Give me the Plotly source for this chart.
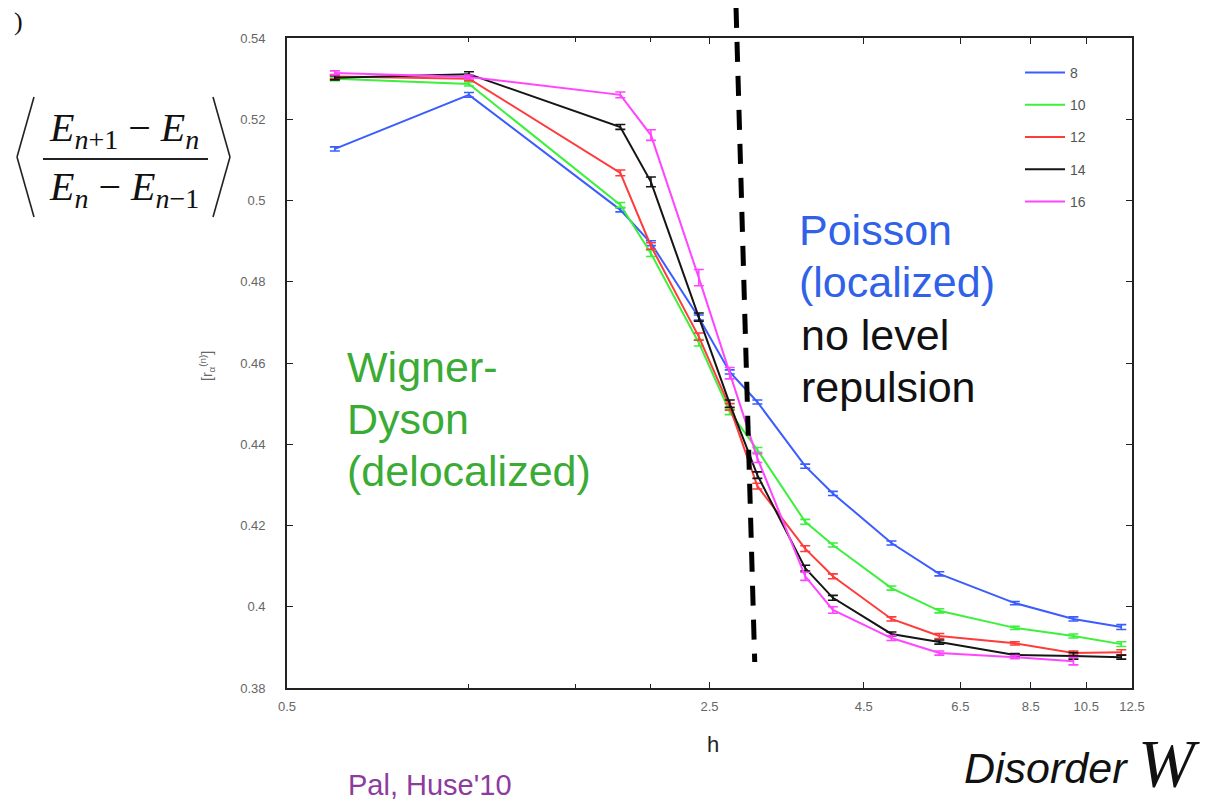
import math
import plotly.graph_objects as go

# ---------------- data ----------------
W = [0.6, 1.0, 1.78, 2.0, 2.4, 2.7, 3.0, 3.6, 4.0, 5.0, 6.0, 8.0, 10.0, 12.0]
sizes = ["8", "10", "12", "14", "16"]

r_L8 = [0.5127, 0.5260, 0.4977, 0.4895, 0.4712, 0.4578, 0.4504, 0.4346, 0.4279, 0.4157, 0.4081, 0.4009, 0.3970, 0.3950]
r_L10 = [0.5300, 0.5287, 0.4989, 0.4870, 0.4650, 0.4480, 0.4386, 0.4209, 0.4152, 0.4046, 0.3990, 0.3948, 0.3928, 0.3908]
r_L12 = [0.5305, 0.5300, 0.5068, 0.4888, 0.4665, 0.4492, 0.4297, 0.4143, 0.4075, 0.3970, 0.3928, 0.3910, 0.3886, 0.3888]
r_L14 = [0.5302, 0.5311, 0.5181, 0.5046, 0.4713, 0.4500, 0.4324, 0.4095, 0.4022, 0.3933, 0.3913, 0.3881, 0.3879, 0.3876]
r_L16 = [0.5314, 0.5304, 0.5260, 0.5161, 0.4810, 0.4575, 0.4366, 0.4075, 0.3992, 0.3923, 0.3886, 0.3876, 0.3866]

e_L8 = [0.0005, 0.0006, 0.0005, 0.0006, 0.0006, 0.0005, 0.0005, 0.0005, 0.0005, 0.0005, 0.0005, 0.0004, 0.0005, 0.0006]
e_L10 = [0.0005, 0.0005, 0.0006, 0.0008, 0.0008, 0.0007, 0.0006, 0.0006, 0.0005, 0.0005, 0.0005, 0.0004, 0.0005, 0.0006]
e_L12 = [0.0005, 0.0005, 0.0007, 0.0008, 0.0009, 0.0008, 0.0007, 0.0007, 0.0006, 0.0005, 0.0006, 0.0004, 0.0005, 0.0006]
e_L14 = [0.0005, 0.0006, 0.0006, 0.0012, 0.0010, 0.0009, 0.0008, 0.0007, 0.0006, 0.0005, 0.0005, 0.0004, 0.0008, 0.0005]
e_L16 = [0.0005, 0.0005, 0.0007, 0.0013, 0.0020, 0.0014, 0.0011, 0.0010, 0.0008, 0.0006, 0.0005, 0.0004, 0.0009]

colors = ["#3b5cff", "#3cf03c", "#ff3b3b", "#151515", "#ff45ff"]

x_tickvals = [0.5, 2.5, 4.5, 6.5, 8.5, 10.5, 12.5]
x_ticktext = ["0.5", "2.5", "4.5", "6.5", "8.5", "10.5", "12.5"]
x_minor_ticks = [1.0, 1.5, 2.0]
y_tickvals = [0.38, 0.40, 0.42, 0.44, 0.46, 0.48, 0.50, 0.52, 0.54]
y_ticktext = ["0.38", "0.4", "0.42", "0.44", "0.46", "0.48", "0.5", "0.52", "0.54"]
x_range = [0.5, 12.5]
y_range = [0.38, 0.54]

# critical-point guide line (top and bottom ends, data units)
crit_W = [2.766, 2.97]
crit_r = [0.5474, 0.3864]

# ---------------- layout geometry ----------------
OFF = 8  # page body margin offset
FW, FH = 1218 - OFF, 804 - OFF
ML, MT = 287 - OFF, 38 - OFF
MR = FW - (1132 - OFF)
MB = FH - (688 - OFF)
PW, PH = FW - ML - MR, FH - MT - MB


def px_x(px):
    return (px - OFF - ML) / PW


def px_y(py):
    return (FH - MB - (py - OFF)) / PH


def data_to_paper_x(v):
    a, b = math.log10(x_range[0]), math.log10(x_range[1])
    return (math.log10(v) - a) / (b - a)


def data_to_paper_y(v):
    return (v - y_range[0]) / (y_range[1] - y_range[0])


fig = go.Figure()
series = [r_L8, r_L10, r_L12, r_L14, r_L16]
errs = [e_L8, e_L10, e_L12, e_L14, e_L16]
for i, (name, ys, es, c) in enumerate(zip(sizes, series, errs, colors)):
    fig.add_trace(go.Scatter(
        x=W[:len(ys)], y=ys, name=name, mode="lines",
        line=dict(color=c, width=2),
        error_y=dict(type="data", array=es, visible=True, color=c, thickness=1.6, width=5),
        legendgroup="g" + name,
    ))

shapes = []
# dashed critical line
shapes.append(dict(
    type="line", xref="paper", yref="paper",
    x0=data_to_paper_x(crit_W[0]), y0=data_to_paper_y(crit_r[0]),
    x1=data_to_paper_x(crit_W[1]), y1=data_to_paper_y(crit_r[1]),
    line=dict(color="black", width=5, dash="20px,14px"),
))
# angle brackets and fraction bar of the formula
bk = dict(color="#222", width=1.6)
shapes += [
    dict(type="line", xref="paper", yref="paper", x0=px_x(34), y0=px_y(97), x1=px_x(17), y1=px_y(157), line=bk),
    dict(type="line", xref="paper", yref="paper", x0=px_x(17), y0=px_y(157), x1=px_x(34), y1=px_y(217), line=bk),
    dict(type="line", xref="paper", yref="paper", x0=px_x(213), y0=px_y(97), x1=px_x(230), y1=px_y(157), line=bk),
    dict(type="line", xref="paper", yref="paper", x0=px_x(230), y0=px_y(157), x1=px_x(213), y1=px_y(217), line=bk),
    dict(type="line", xref="paper", yref="paper", x0=px_x(43), y0=px_y(159), x1=px_x(208), y1=px_y(159),
         line=dict(color="#222", width=2)),
]

ann = []


def add_text(text, px, py, size, color, family="Liberation Sans, Arial, sans-serif",
             xanchor="left", yanchor="middle", angle=0):
    ann.append(dict(text=text, x=px_x(px), y=px_y(py), xref="paper", yref="paper",
                    showarrow=False, xanchor=xanchor, yanchor=yanchor, textangle=angle,
                    font=dict(size=size, color=color, family=family)))


serif = "Liberation Serif, Times New Roman, serif"
add_text(")", 12, 22, 26, "#111", family=serif)
add_text("<i>E</i><sub><i>n</i>+1</sub> − <i>E</i><sub><i>n</i></sub>", 124, 130, 40, "#111",
         family=serif, xanchor="center")
add_text("<i>E</i><sub><i>n</i></sub> − <i>E</i><sub><i>n</i>−1</sub>", 124, 189, 40, "#111",
         family=serif, xanchor="center")
add_text("[r<sub>α</sub><sup>(n)</sup>]", 207, 366, 14, "#666", xanchor="center", angle=-90)
add_text("h", 713, 744, 22, "#222", xanchor="center")

green_t = "#3aac36"
blue_t = "#2f62e8"
add_text("Wigner-", 345, 367, 43, green_t)
add_text("Dyson", 345, 419, 43, green_t)
add_text("(delocalized)", 345, 471, 43, green_t)
add_text("Poisson", 797, 230, 43, blue_t)
add_text("(localized)", 797, 282, 43, blue_t)
add_text("no level", 799, 335, 43, "#111")
add_text("repulsion", 799, 387, 43, "#111")
add_text("Pal, Huse'10", 346, 785, 29, "#8e3b9e")
add_text("<i>Disorder</i>", 962, 768, 43, "#111")
add_text("<i>W</i>", 1136, 763, 68, "#111", family=serif)

axis_font = dict(size=13, color="#666", family="Liberation Sans, Arial, sans-serif")
fig.update_layout(
    width=FW, height=FH,
    margin=dict(l=ML, r=MR, t=MT, b=MB, autoexpand=False),
    paper_bgcolor="white", plot_bgcolor="white",
    showlegend=True,
    legend=dict(x=px_x(1020), y=px_y(57), xanchor="left", yanchor="top",
                bgcolor="rgba(0,0,0,0)", font=dict(size=14, color="#555",
                family="Liberation Sans, Arial, sans-serif"),
                tracegroupgap=11, itemwidth=40),
    xaxis=dict(type="log", range=[math.log10(x_range[0]), math.log10(x_range[1])],
               tickmode="array", tickvals=x_tickvals, ticktext=x_ticktext,
               ticks="inside", ticklen=6, tickwidth=1.3, tickcolor="#222",
               minor=dict(tickmode="array", tickvals=x_minor_ticks, ticks="inside",
                          ticklen=4, tickwidth=1.3, tickcolor="#222", showgrid=False),
               showline=True, linecolor="#222", linewidth=1.6, mirror="ticks",
               showgrid=False, zeroline=False,
               tickfont=axis_font, ticklabelstandoff=6),
    yaxis=dict(range=y_range, tickmode="array", tickvals=y_tickvals, ticktext=y_ticktext,
               ticks="inside", ticklen=6, tickwidth=1.3, tickcolor="#222",
               showline=True, linecolor="#222", linewidth=1.6, mirror="ticks",
               showgrid=False, zeroline=False,
               tickfont=axis_font, ticklabelstandoff=17),
    shapes=shapes,
    annotations=ann,
)

fig.write_html("out.html")
